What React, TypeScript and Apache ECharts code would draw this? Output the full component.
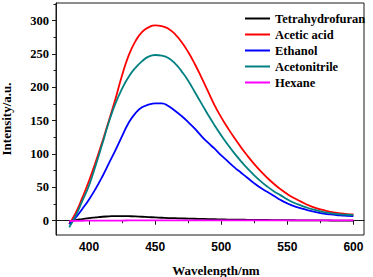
import React, { useEffect, useRef } from "react";
import * as echarts from "echarts";

const wavelengths = [385, 390, 395, 400, 405, 410, 415, 420, 425, 430, 435, 440, 445, 450, 455, 460, 465, 470, 475, 480, 485, 490, 495, 500, 505, 510, 515, 520, 525, 530, 535, 540, 545, 550, 555, 560, 565, 570, 575, 580, 585, 590, 595, 600];

const tetrahydrofuran = [-1, 1, 2.5, 4, 5, 6, 6.5, 7, 7, 6.8, 6.5, 6, 5.5, 5, 4.5, 4, 3.8, 3.5, 3.2, 3, 2.8, 2.5, 2.3, 2, 1.8, 1.6, 1.5, 1.4, 1.3, 1.2, 1.1, 1, 0.9, 0.8, 0.7, 0.6, 0.5, 0.5, 0.4, 0.4, 0.3, 0.3, 0.3, 0.3];
const aceticAcid = [-5, 12, 35, 60, 88, 118, 150, 183, 218, 248, 269, 283, 290, 293, 292, 288, 280, 268, 253, 235, 215, 194, 173, 155, 139, 124, 110, 97, 85, 74, 64, 55, 47, 40, 34, 29, 24, 20, 17, 14.5, 12.5, 11, 10, 9.5];
const ethanol = [-5, 5, 18, 32, 48, 66, 86, 106, 127, 147, 161, 170, 174, 176, 176, 172, 165, 157, 148, 138, 127, 117, 108, 98, 89, 80, 72, 64, 56, 49, 43, 37, 31, 26, 22, 19, 16, 13.5, 11.5, 10, 9, 8, 7.5, 7];
const acetonitrile = [-10, 8, 30, 53, 83, 115, 148, 176, 198, 216, 229, 239, 246, 248.5, 247.5, 244, 236, 224, 210, 193, 176, 159, 143, 128, 114, 101, 89, 78, 68, 59, 51, 44, 38, 32, 27, 23, 19.5, 16.5, 14, 12, 10.5, 9.5, 9, 8.5];
const hexane = [-0.5, -0.2, 0, 0.1, 0.2, 0.2, 0.3, 0.3, 0.3, 0.4, 0.4, 0.4, 0.4, 0.5, 0.5, 0.5, 0.5, 0.5, 0.5, 0.5, 0.5, 0.5, 0.5, 0.5, 0.5, 0.5, 0.5, 0.5, 0.5, 0.5, 0.5, 0.5, 0.5, 0.5, 0.5, 0.5, 0.5, 0.5, 0.5, 0.5, 0.5, 0.5, 0.5, 0.5];

const seriesNames = ["Tetrahydrofuran", "Acetic acid", "Ethanol", "Acetonitrile", "Hexane"];
const seriesValues = [tetrahydrofuran, aceticAcid, ethanol, acetonitrile, hexane];
const seriesColors = ["#000000", "#ff0000", "#0000ff", "#008080", "#ff00ff"];

const xMajorTicks = [400, 450, 500, 550, 600];
const xMinorTicks = [425, 475, 525, 575];
const yMajorTicks = [0, 50, 100, 150, 200, 250, 300];
const yMinorTicks = [25, 75, 125, 175, 225, 275, 325];

const X_MIN = 375;
const X_MAX = 608;
const Y_MIN = -21.4;
const Y_MAX = 326.5;

const SERIF = "Liberation Serif";
const SANS = "Liberation Sans";
const AXIS_COLOR = "#1a1a1a";

export default function App() {
  const ref = useRef<HTMLDivElement>(null);
  useEffect(() => {
    document.body.style.margin = "0";
    if (!ref.current) return;
    const chart = echarts.init(ref.current, undefined, { renderer: "svg" });
    const series = seriesNames.map((name, i) => ({
      name,
      type: "line",
      data: wavelengths.map((w, j) => [w, seriesValues[i][j]]),
      smooth: true,
      symbol: "none",
      lineStyle: { color: seriesColors[i], width: 1.8 },
      itemStyle: { color: seriesColors[i] },
      xAxisIndex: 0,
      yAxisIndex: 0,
    }));
    chart.setOption({
      animation: false,
      backgroundColor: "#ffffff",
      grid: {
        left: 56,
        right: 9,
        top: 3,
        bottom: 42,
        show: true,
        borderColor: AXIS_COLOR,
        borderWidth: 1,
        containLabel: false,
        outerBoundsMode: "none",
      },
      legend: {
        orient: "vertical",
        left: 240,
        top: 7,
        itemWidth: 25,
        itemHeight: 2,
        itemGap: 3,
        icon: "rect",
        textStyle: { fontFamily: SERIF, fontWeight: "bold", fontSize: 12.5, color: "#000" },
        data: seriesNames,
      },
      xAxis: [
        {
          type: "value",
          min: X_MIN,
          max: X_MAX,
          position: "bottom",
          name: "Wavelength/nm",
          nameLocation: "middle",
          nameGap: 29,
          nameTextStyle: { fontFamily: SERIF, fontWeight: "bold", fontSize: 13, color: "#000", padding: [0, 0, 0, 12] },
          axisLine: { show: true, lineStyle: { color: AXIS_COLOR, width: 1 } },
          axisTick: { show: true, inside: false, length: 4, customValues: xMajorTicks, lineStyle: { color: AXIS_COLOR } },
          axisLabel: { show: true, margin: 6, customValues: xMajorTicks, fontFamily: SANS, fontWeight: "bold", fontSize: 12, color: "#000" },
          splitLine: { show: false },
        },
        {
          type: "value",
          min: X_MIN,
          max: X_MAX,
          position: "bottom",
          axisLine: { show: false },
          axisTick: { show: true, inside: false, length: 2.5, customValues: xMinorTicks, lineStyle: { color: AXIS_COLOR } },
          axisLabel: { show: false },
          splitLine: { show: false },
        },
      ],
      yAxis: [
        {
          type: "value",
          min: Y_MIN,
          max: Y_MAX,
          position: "left",
          name: "Intensity/a.u.",
          nameLocation: "middle",
          nameGap: 43,
          nameTextStyle: { fontFamily: SERIF, fontWeight: "bold", fontSize: 13, color: "#000" },
          axisLine: { show: true, lineStyle: { color: AXIS_COLOR, width: 1 } },
          axisTick: { show: true, inside: false, length: 4, customValues: yMajorTicks, lineStyle: { color: AXIS_COLOR } },
          axisLabel: { show: true, margin: 7, customValues: yMajorTicks, fontFamily: SERIF, fontWeight: "bold", fontSize: 12.5, color: "#000" },
          splitLine: { show: false },
        },
        {
          type: "value",
          min: Y_MIN,
          max: Y_MAX,
          position: "left",
          axisLine: { show: false },
          axisTick: { show: true, inside: false, length: 2.5, customValues: yMinorTicks, lineStyle: { color: AXIS_COLOR } },
          axisLabel: { show: false },
          splitLine: { show: false },
        },
      ],
      series,
    });
    return () => chart.dispose();
  }, []);
  return (
    <div
      ref={ref}
      style={{ position: "fixed", left: 0, top: 0, width: 373, height: 277, background: "#fff" }}
    />
  );
}
